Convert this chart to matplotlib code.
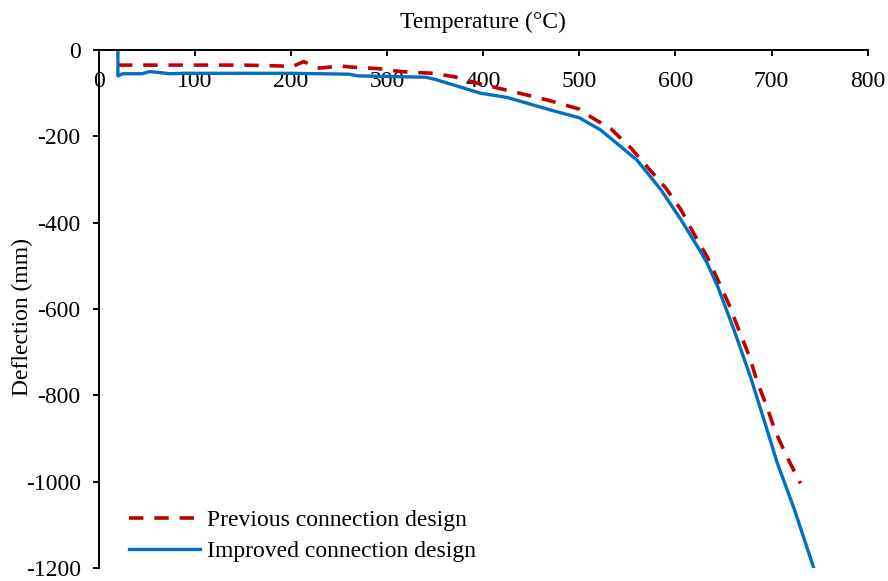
import matplotlib
matplotlib.use("Agg")
import matplotlib.pyplot as plt

plt.rcParams['font.family'] = ['Liberation Serif', 'DejaVu Serif']
plt.rcParams['font.size'] = 17
plt.rcParams['axes.unicode_minus'] = False

# Data
prev_T = [20, 100, 150, 190, 200, 213, 230, 251, 265, 290, 314, 348, 370, 394,
          432, 467, 500, 512, 533, 554, 572, 590, 606, 619, 633, 645, 656, 666,
          677, 685, 695, 704, 715, 730]
prev_D = [-35, -35, -35, -37, -40, -27, -42, -37, -40, -43, -50, -54, -62, -77,
          -97, -116, -137, -155, -183, -228, -274, -320, -371, -425, -479, -537,
          -591, -649, -710, -768, -826, -884, -938, -1004]

impr_T = [20, 20, 25, 45, 53, 62, 74, 90, 150, 200, 260, 270, 340, 350, 375,
          397, 425, 470, 500, 522, 560, 585, 606, 625, 633, 644, 661, 678, 691,
          706, 724, 744]
impr_D = [0, -60, -55, -55, -50, -52, -55, -54, -54, -54, -56, -60, -63, -68,
          -85, -100, -110, -139, -157, -185, -255, -324, -394, -463, -494, -548,
          -649, -757, -849, -957, -1066, -1201]

x_ticks = [0, 100, 200, 300, 400, 500, 600, 700, 800]
y_ticks = [0, -200, -400, -600, -800, -1000, -1200]

labels = ["Previous connection design", "Improved connection design"]

fig = plt.figure(figsize=(8.88, 5.81), dpi=100)
ax = fig.add_axes([98.7 / 888, 1 - 568 / 581, 769 / 888, 518 / 581])

ax.plot(prev_T, prev_D, color='#C00000', lw=2.6, ls=(0, (4, 3)), label=labels[0])
ax.plot(impr_T, impr_D, color='#0070C0', lw=2.4, label=labels[1])

ax.set_xlim(0, 800)
ax.set_ylim(-1200, 0)
ax.set_xticks(x_ticks)
ax.set_yticks(y_ticks)

for s in ['bottom', 'right']:
    ax.spines[s].set_visible(False)
for s in ['top', 'left']:
    ax.spines[s].set_linewidth(1.4)

ax.tick_params(axis='x', bottom=False, labelbottom=False, top=True, labeltop=True,
               direction='in', length=4, width=1.4, pad=-30)
ax.tick_params(axis='y', direction='out', length=4, width=1.4, pad=9)

ax.xaxis.set_label_position('top')
ax.set_xlabel("Temperature (°C)", labelpad=16)
ax.set_ylabel("Deflection (mm)")
ax.yaxis.set_label_coords(-0.086, 0.485)

ax.legend(loc='lower left', bbox_to_anchor=(0.012, -0.03), frameon=False,
          handlelength=3.0, handletextpad=0.3, labelspacing=0.42)

fig.savefig("out.png", dpi=100)
